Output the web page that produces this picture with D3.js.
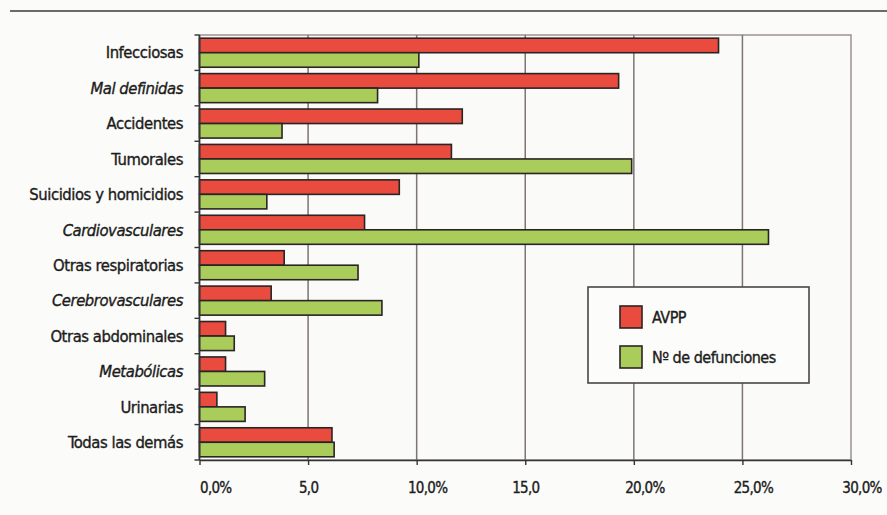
<!DOCTYPE html>
<html>
<head>
<meta charset="utf-8">
<script src="https://cdn.jsdelivr.net/npm/d3@7"></script>
<style>
  html, body { margin: 0; padding: 0; background: #fbfbf9; }
  svg { display: block; }
  .lbl { font-family: "DejaVu Sans Condensed", "DejaVu Sans", sans-serif; fill: #1c1c1c; stroke: #1c1c1c; stroke-width: 0.35px; }
</style>
</head>
<body>
<svg id="chart" width="887" height="515"></svg>
<script>
// Causes of death: share of potential years of life lost vs. share of deaths (%)
const categories = [
  "Infecciosas", "Mal definidas", "Accidentes", "Tumorales",
  "Suicidios y homicidios", "Cardiovasculares", "Otras respiratorias",
  "Cerebrovasculares", "Otras abdominales", "Metabólicas", "Urinarias",
  "Todas las demás"
];
const avpp       = [23.9, 19.3, 12.1, 11.6, 9.2, 7.6, 3.9, 3.3, 1.2, 1.2, 0.8, 6.1];
const defunciones = [10.1, 8.2, 3.8, 19.9, 3.1, 26.2, 7.3, 8.4, 1.6, 3.0, 2.1, 6.2];
const seriesNames = ["AVPP", "Nº de defunciones"];
const xTicks = [0, 5, 10, 15, 20, 25, 30];
const xTickLabels = ["0,0%", "5,0", "10,0%", "15,0", "20,0%", "25,0%", "30,0%"];

// Category labels set in italics
const italicLabels = new Set(["Mal definidas", "Cardiovasculares", "Cerebrovasculares", "Metabólicas"]);

const colors = { "AVPP": "#e94c3f", "Nº de defunciones": "#a9cc5b" };
const series = [avpp, defunciones];

const svg = d3.select("#chart");
const plot = { left: 199.5, right: 851, top: 35, bottom: 460 };

const x = d3.scaleLinear().domain([0, 30]).range([plot.left, plot.right]);
const y = d3.scaleBand().domain(categories).range([plot.top, plot.bottom])
  .paddingInner(0.18).paddingOuter(0.09);
const ySub = d3.scaleBand().domain(seriesNames).range([0, y.bandwidth()]).padding(0);

// Rule across the top of the page
svg.append("line")
  .attr("x1", 10).attr("x2", 887).attr("y1", 11).attr("y2", 11)
  .attr("stroke", "#6b6b6b").attr("stroke-width", 2);

// Plot frame (top and right edges)
svg.append("rect")
  .attr("x", plot.left).attr("y", plot.top)
  .attr("width", plot.right - plot.left).attr("height", plot.bottom - plot.top)
  .attr("fill", "#fafaf8").attr("stroke", "#9a9292").attr("stroke-width", 1.5);

// Vertical gridlines
svg.append("g").selectAll("line")
  .data(xTicks.filter(t => t > 0 && t < 30))
  .join("line")
  .attr("x1", d => x(d)).attr("x2", d => x(d))
  .attr("y1", plot.top).attr("y2", plot.bottom)
  .attr("stroke", "#7e7474").attr("stroke-width", 1.5);

// Bars
const groups = svg.append("g").selectAll("g")
  .data(categories)
  .join("g")
  .attr("transform", d => `translate(0,${y(d)})`);

groups.selectAll("rect")
  .data((c, i) => seriesNames.map((s, k) => ({ series: s, value: series[k][i] })))
  .join("rect")
  .attr("x", x(0))
  .attr("y", d => ySub(d.series))
  .attr("width", d => x(d.value) - x(0))
  .attr("height", ySub.bandwidth())
  .attr("fill", d => colors[d.series])
  .attr("stroke", "#2b2424").attr("stroke-width", 1.6);

// X axis
const xAxis = d3.axisBottom(x)
  .tickValues(xTicks)
  .tickFormat((d, i) => xTickLabels[i])
  .tickSize(5).tickSizeOuter(0);
const gx = svg.append("g").attr("transform", `translate(0,${plot.bottom})`).call(xAxis);
gx.select(".domain").attr("stroke", "#333").attr("stroke-width", 1.6);
gx.selectAll(".tick line").attr("stroke", "#333").attr("stroke-width", 1.4);
gx.selectAll(".tick text")
  .attr("class", "lbl")
  .attr("y", 22)
  .attr("text-anchor", (d, i) => i === 0 ? "start" : "middle")
  .attr("dx", (d, i) => i > 0 && xTickLabels[i].endsWith("%") ? "0.7em" : 0)
  .style("font-size", "15px")
  .style("letter-spacing", "-0.7px");

// Y axis: ticks sit on the band boundaries
const yAxis = svg.append("g");
yAxis.append("line")
  .attr("x1", plot.left).attr("x2", plot.left)
  .attr("y1", plot.top).attr("y2", plot.bottom)
  .attr("stroke", "#333").attr("stroke-width", 1.6);
const boundaries = categories.map(c => y(c) - y.step() * y.paddingInner() / 2).concat([plot.bottom]);
yAxis.selectAll("line.tk")
  .data(boundaries)
  .join("line")
  .attr("class", "tk")
  .attr("x1", plot.left - 5).attr("x2", plot.left)
  .attr("y1", d => d).attr("y2", d => d)
  .attr("stroke", "#333").attr("stroke-width", 1.4);

yAxis.selectAll("text")
  .data(categories)
  .join("text")
  .attr("class", "lbl")
  .attr("x", 183)
  .attr("y", d => y(d) + y.bandwidth() / 2)
  .attr("dy", "0.35em")
  .attr("text-anchor", "end")
  .style("font-size", "16.5px")
  .style("letter-spacing", "-0.45px")
  .style("font-style", d => italicLabels.has(d) ? "italic" : "normal")
  .text(d => d);

// Legend
const legend = svg.append("g").attr("transform", "translate(588,287)");
legend.append("rect")
  .attr("width", 221).attr("height", 96)
  .attr("fill", "#fcfcfb").attr("stroke", "#4a4545").attr("stroke-width", 1.6);
const items = legend.selectAll("g.item")
  .data(seriesNames)
  .join("g")
  .attr("class", "item")
  .attr("transform", (d, i) => `translate(32,${19 + i * 40})`);
items.append("rect")
  .attr("width", 22).attr("height", 22)
  .attr("fill", d => colors[d])
  .attr("stroke", "#2b2424").attr("stroke-width", 1.6);
items.append("text")
  .attr("class", "lbl")
  .attr("x", 32).attr("y", 11).attr("dy", "0.35em")
  .style("font-size", "16px")
  .style("letter-spacing", "-0.5px")
  .text(d => d);
</script>
</body>
</html>
